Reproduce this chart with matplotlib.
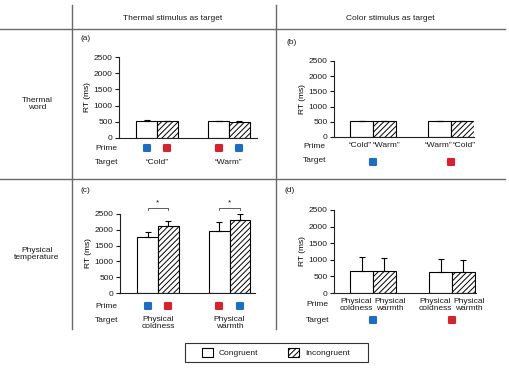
import matplotlib.pyplot as plt
from matplotlib.lines import Line2D
from matplotlib.markers import MarkerStyle
from matplotlib.patches import Patch, Rectangle

plt.rcParams['font.family'] = ['Liberation Sans', 'DejaVu Sans']
plt.rcParams['font.size'] = 6
plt.rcParams['hatch.linewidth'] = 0.7
plt.rcParams['text.color'] = '#1a1a1a'

W, H = 510, 368
BLUE = '#1b6ec6'
RED = '#db1f2b'
GRID = '#6a6a6a'

# ---- data ----
groups = [0, 1]

cong_a = [525, 510]
incong_a = [520, 505]
err_cong_a = [18, 15]
err_incong_a = [12, 12]

cong_b = [510, 510]
incong_b = [510, 510]
err_cong_b = [15, 15]
err_incong_b = [12, 12]

cong_c = [1770, 1970]
incong_c = [2110, 2320]
err_cong_c = [160, 290]
err_incong_c = [180, 190]
sig_c = ['*', '*']
bracket_c = [2620, 2690]

cong_d = [670, 640]
incong_d = [670, 625]
err_cong_d = [400, 370]
err_incong_d = [370, 375]

prime_colors_a = [[BLUE, RED], [RED, BLUE]]
target_words_a = ['\u201cCold\u201d', '\u201cWarm\u201d']
prime_words_b = [['\u201cCold\u201d', '\u201cWarm\u201d'], ['\u201cWarm\u201d', '\u201cCold\u201d']]
target_colors_b = [BLUE, RED]
prime_colors_c = [[BLUE, RED], [RED, BLUE]]
target_words_c = ['Physical\ncoldness', 'Physical\nwarmth']
prime_words_d = [['Physical\ncoldness', 'Physical\nwarmth'], ['Physical\ncoldness', 'Physical\nwarmth']]
target_colors_d = [BLUE, RED]

BW = 0.29

fig = plt.figure(figsize=(W / 100, H / 100), dpi=100)


def fx(x):
    return x / W


def fy(y):
    return 1 - y / H


def make_panel(left, right, top, bottom, c1, sp):
    ax = fig.add_axes([fx(left), fy(bottom), (right - left) / W, (bottom - top) / H])
    ax.set_xlim((left - c1) / sp, (right - c1) / sp)
    ax.set_ylim(0, 2500)
    ax.set_yticks(range(0, 2501, 500))
    ax.set_xticks([])
    for s in ['top', 'right']:
        ax.spines[s].set_visible(False)
    for s in ['left', 'bottom']:
        ax.spines[s].set_linewidth(0.8)
        ax.spines[s].set_color('#222222')
    ax.tick_params(axis='y', length=3, width=0.8, pad=1.5, colors='#1a1a1a')
    ax.set_ylabel('RT (ms)', labelpad=2)
    ax.patch.set_alpha(0)
    return ax


def draw_bars(ax, cong, incong, err_c, err_i):
    xc = [g - BW / 2 for g in groups]
    xi = [g + BW / 2 for g in groups]
    ekw = dict(elinewidth=0.8, capthick=0.8, ecolor='black')
    ax.bar(xc, cong, BW, color='white', edgecolor='black', linewidth=0.8,
           yerr=[[0] * len(cong), err_c], capsize=2, error_kw=ekw, zorder=2)
    ax.bar(xi, incong, BW, color='white', edgecolor='black', linewidth=0.8, hatch='//////',
           yerr=[[0] * len(incong), err_i], capsize=2, error_kw=ekw, zorder=2)
    return xc, xi


def row_y(ax_top, ax_bottom, ypx):
    return (ax_bottom - ypx) / (ax_bottom - ax_top)


def squares(ax, xs, colors, yax):
    m = MarkerStyle('s', joinstyle='round')
    for x, c in zip(xs, colors):
        ax.plot([x], [yax], marker=m, markersize=4.5, color=c, mec=c, mew=1.5,
                transform=ax.get_xaxis_transform(), clip_on=False, linestyle='none')


# ---- panel (a) ----
top, bot = 57, 138
ax = make_panel(119, 257, top, bot, 157, 72)
xc, xi = draw_bars(ax, cong_a, incong_a, err_cong_a, err_incong_a)
for g in groups:
    squares(ax, [xc[g], xi[g]], prime_colors_a[g], row_y(top, bot, 148))
    ax.text(groups[g], row_y(top, bot, 162), target_words_a[g], ha='center', va='center',
            transform=ax.get_xaxis_transform())

# ---- panel (b) ----
top, bot = 61, 137
ax = make_panel(334, 474, top, bot, 373, 78)
xc, xi = draw_bars(ax, cong_b, incong_b, err_cong_b, err_incong_b)
for g in groups:
    ax.text(xc[g] - 0.02, row_y(top, bot, 146), prime_words_b[g][0], ha='center', va='center',
            transform=ax.get_xaxis_transform())
    ax.text(xi[g] + 0.03, row_y(top, bot, 146), prime_words_b[g][1], ha='center', va='center',
            transform=ax.get_xaxis_transform())
squares(ax, groups, target_colors_b, row_y(top, bot, 162))

# ---- panel (c) ----
top, bot = 214, 293
ax = make_panel(120, 255, top, bot, 158, 71.5)
xc, xi = draw_bars(ax, cong_c, incong_c, err_cong_c, err_incong_c)
for g in groups:
    squares(ax, [xc[g], xi[g]], prime_colors_c[g], row_y(top, bot, 306))
    ax.text(groups[g], row_y(top, bot, 316), target_words_c[g], ha='center', va='top',
            transform=ax.get_xaxis_transform(), linespacing=1.1)
    lo, hi = bracket_c
    ax.plot([xc[g], xc[g], xi[g], xi[g]], [lo, hi, hi, lo], color='#444444', lw=0.6,
            clip_on=False)
    ax.text(groups[g], hi + 40, sig_c[g], ha='center', va='bottom', fontsize=6)

# ---- panel (d) ----
top, bot = 210, 293
ax = make_panel(334, 476, top, bot, 373, 79)
xc, xi = draw_bars(ax, cong_d, incong_d, err_cong_d, err_incong_d)
for g in groups:
    ax.text(xc[g] - 0.07, row_y(top, bot, 305), prime_words_d[g][0], ha='center', va='center',
            transform=ax.get_xaxis_transform(), linespacing=1.0)
    ax.text(xi[g] + 0.07, row_y(top, bot, 305), prime_words_d[g][1], ha='center', va='center',
            transform=ax.get_xaxis_transform(), linespacing=1.0)
squares(ax, groups, target_colors_d, row_y(top, bot, 320))

# ---- table text ----
fig.text(fx(173), fy(18), 'Thermal stimulus as target', ha='center', va='center')
fig.text(fx(390), fy(18), 'Color stimulus as target', ha='center', va='center')
fig.text(fx(37), fy(104), 'Thermal\nword', ha='center', va='center', linespacing=1.1)
fig.text(fx(37), fy(254), 'Physical\ntemperature', ha='center', va='center', linespacing=1.1)

for lbl, x, y in [('(a)', 86, 39), ('(b)', 292, 42), ('(c)', 85, 190), ('(d)', 290, 190)]:
    fig.text(fx(x), fy(y), lbl, ha='center', va='center')

for x, yp, yt in [(95, 148, 162), (303, 146, 161), (95, 306, 320), (306, 305, 320)]:
    fig.text(fx(x), fy(yp), 'Prime', ha='left', va='center')
    fig.text(fx(x), fy(yt), 'Target', ha='left', va='center')

# table lines
for y in [29, 179]:
    fig.add_artist(Line2D([fx(0), fx(505)], [fy(y), fy(y)], color=GRID, lw=1.0,
                          transform=fig.transFigure))
for x in [72, 276]:
    fig.add_artist(Line2D([fx(x), fx(x)], [fy(5), fy(329)], color=GRID, lw=1.0,
                          transform=fig.transFigure))

# legend
handles = [Patch(facecolor='white', edgecolor='black', linewidth=0.8, label='Congruent'),
           Patch(facecolor='white', edgecolor='black', linewidth=0.8, hatch='//////',
                 label='Incongruent')]
leg = fig.legend(handles=handles, ncol=2, loc='center', bbox_to_anchor=(fx(276), fy(352.5)),
                 frameon=False, handlelength=1.25, handleheight=1.25, handletextpad=0.75,
                 columnspacing=3.6, borderaxespad=0, fontsize=6)
fig.add_artist(Rectangle((fx(185), fy(362)), 183 / W, 19 / H, transform=fig.transFigure,
                         facecolor='none', edgecolor='#333333', lw=0.8))

fig.savefig('out.png', dpi=100)
